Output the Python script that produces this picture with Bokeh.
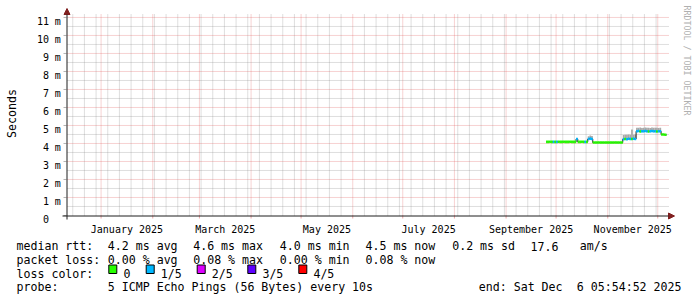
from math import pi
import pandas as pd
from bokeh.plotting import figure
from bokeh.models import Range1d, Arrow, NormalHead, ColumnDataSource
from bokeh.core.properties import value
from bokeh.embed import file_html
from bokeh.resources import INLINE

# ---------------- data ----------------
first_day = "2025-09-25"   # one value per day from here on
median_ms = [
    4.09, 4.09, 4.10, 4.09, 4.09, 4.09,                                       # Sep 25-30
    4.09, 4.10, 4.09, 4.09, 4.10, 4.09, 4.09, 4.09, 4.10, 4.09, 4.09, 4.09,   # Oct 1-12
    4.25,                                                                     # Oct 13
    4.09, 4.09, 4.10, 4.09, 4.09, 4.09,                                       # Oct 14-19
    4.25, 4.27, 4.25,                                                         # Oct 20-22
    4.05, 4.05, 4.05, 4.06, 4.05, 4.05, 4.05, 4.05, 4.05,                     # Oct 23-31
    4.05, 4.05, 4.05, 4.05, 4.06, 4.05, 4.05, 4.05, 4.05,                     # Nov 1-9
    4.24, 4.25, 4.24, 4.26, 4.25, 4.25, 4.26, 4.25,                           # Nov 10-17
    4.68, 4.69, 4.67, 4.68, 4.68, 4.69, 4.68, 4.67, 4.68, 4.69, 4.68, 4.68,
    4.67, 4.68, 4.68,                                                         # Nov 18-Dec 2
    4.50, 4.50, 4.48,                                                         # Dec 3-5
]
smoke_hi_ms = [
    4.13, 4.13, 4.14, 4.13, 4.14, 4.13,
    4.14, 4.14, 4.13, 4.13, 4.14, 4.13, 4.13, 4.13, 4.14, 4.13, 4.13, 4.13,
    4.30,
    4.13, 4.13, 4.14, 4.13, 4.13, 4.14,
    4.40, 4.44, 4.42,
    4.09, 4.09, 4.09, 4.10, 4.09, 4.09, 4.09, 4.09, 4.09,
    4.09, 4.09, 4.09, 4.09, 4.10, 4.09, 4.09, 4.09, 4.09,
    4.47, 4.49, 4.48, 4.50, 4.49, 4.78, 4.48, 4.50,
    4.88, 4.87, 4.89, 4.86, 4.88, 4.89, 4.87, 4.88, 4.86, 4.89, 4.88, 4.87,
    4.88, 4.86, 4.87,
    4.55, 4.54, 4.53,
]
smoke_lo_ms = [
    4.05, 4.05, 4.06, 4.05, 4.05, 4.05,
    4.05, 4.06, 4.05, 4.05, 4.06, 4.05, 4.05, 4.05, 4.06, 4.05, 4.05, 4.05,
    4.20,
    4.05, 4.05, 4.06, 4.05, 4.05, 4.05,
    4.20, 4.22, 4.20,
    4.01, 4.01, 4.01, 4.02, 4.01, 4.01, 4.01, 4.01, 4.01,
    4.01, 4.01, 4.01, 4.01, 4.02, 4.01, 4.01, 4.01, 4.01,
    4.19, 4.20, 4.19, 4.21, 4.20, 4.20, 4.21, 4.20,
    4.63, 4.64, 4.62, 4.63, 4.63, 4.64, 4.63, 4.62, 4.63, 4.64, 4.63, 4.63,
    4.62, 4.63, 4.63,
    4.46, 4.46, 4.44,
]
lost_of_5 = [
    0, 0, 0, 0, 1, 0,
    1, 0, 0, 0, 0, 0, 0, 0, 0, 0, 0, 0,
    1,
    0, 0, 0, 0, 1, 0,
    1, 1, 1,
    0, 0, 0, 0, 0, 0, 0, 0, 0,
    0, 0, 0, 0, 0, 0, 0, 0, 0,
    1, 0, 1, 1, 1, 0, 1, 1,
    1, 1, 0, 1, 1, 1, 1, 0, 1, 1, 1, 1,
    0, 1, 1,
    0, 0, 0,
]

loss_labels = ["0", "1/5", "2/5", "3/5", "4/5"]
loss_colors = ["#26ff00", "#00b8ff", "#dd00ff", "#5e00ff", "#ff0000"]

y_ticks = [0, 1, 2, 3, 4, 5, 6, 7, 8, 9, 10, 11]
y_tick_labels = ["0", "1 m", "2 m", "3 m", "4 m", "5 m", "6 m", "7 m", "8 m",
                 "9 m", "10 m", "11 m"]
x_label_months = ["2025-01-01", "2025-03-01", "2025-05-01", "2025-07-01",
                  "2025-09-01", "2025-11-01"]
x_tick_labels = ["January 2025", "March 2025", "May 2025", "July 2025",
                 "September 2025", "November 2025"]

graph_end = "2025-12-06 05:54:52"
graph_days = 360
y_top = 11.11

rtt_title = "median rtt:"
rtt_stats = ["4.2 ms avg", "4.6 ms max", "4.0 ms min", "4.5 ms now", "0.2 ms sd", "17.6", "am/s"]
loss_title = "packet loss:"
loss_stats = ["0.00 % avg", "0.08 % max", "0.00 % min", "0.08 % now"]
color_title = "loss color:"
probe_title = "probe:"
probe_text = "5 ICMP Echo Pings (56 Bytes) every 10s"
end_parts = ["end: Sat Dec", "6 05:54:52 2025"]
watermark = "RRDTOOL / TOBI OETIKER"
y_title = "Seconds"

# ---------------- layout ----------------
W, H = 697, 297
GL, GR, GT, GB = 66, 666, 15, 215     # graph area in canvas pixels
MONO = "DejaVu Sans Mono"
DAY = 86400000
GRID = "#808080"
MGRID = "#e04f4f"
AXIS = "#1f1f1f"
ARROW = "#801f1f"


def to_ms(t):
    return int(pd.Timestamp(t).value // 10**6)


x1 = to_ms(graph_end)
x0 = x1 - graph_days * DAY


def X(px):
    return x0 + (px - GL) * (x1 - x0) / (GR - GL)


def Y(py):
    return (GB - py) * y_top / (GB - GT)


# the frame is the whole canvas; time and millisecond scales are set so the graph area
# falls where the reference has it
p = figure(width=W, height=H, x_range=Range1d(X(0), X(W)), y_range=Range1d(Y(H), Y(0)),
           x_axis_type=None, y_axis_type=None, min_border=0,
           output_backend="svg", toolbar_location=None)
p.outline_line_color = None
p.background_fill_color = "white"
p.border_fill_color = "white"

# ---- grid ----
month_starts = [to_ms(d) for d in pd.date_range("2024-12-01", "2026-01-01", freq="MS")
                if x0 < to_ms(d) < x1]
sundays = [to_ms(d) for d in pd.date_range("2024-12-01", "2025-12-31", freq="W-SUN")
           if x0 < to_ms(d) < x1 and to_ms(d) not in month_starts]
y_minor = [t + 0.5 for t in y_ticks[:-1]]

p.segment(x0=sundays, x1=sundays, y0=[0] * len(sundays), y1=[Y(14)] * len(sundays),
          line_color=GRID, line_alpha=0.5, line_dash="1 1", line_width=1)
p.segment(x0=[X(67)] * len(y_minor), x1=[X(668)] * len(y_minor), y0=y_minor, y1=y_minor,
          line_color=GRID, line_alpha=0.5, line_dash="1 1", line_width=1)
p.segment(x0=month_starts, x1=month_starts, y0=[0] * len(month_starts),
          y1=[Y(14)] * len(month_starts),
          line_color=MGRID, line_alpha=0.5, line_dash="1 1", line_width=1)
p.segment(x0=[X(67)] * (len(y_ticks) - 1), x1=[X(668)] * (len(y_ticks) - 1),
          y0=y_ticks[1:], y1=y_ticks[1:],
          line_color=MGRID, line_alpha=0.5, line_dash="1 1", line_width=1)

# small ticks on the axes
p.segment(x0=month_starts, x1=month_starts, y0=[Y(215)] * len(month_starts),
          y1=[Y(218)] * len(month_starts), line_color=MGRID, line_alpha=0.5)
p.segment(x0=[X(63)] * len(y_ticks), x1=[X(66)] * len(y_ticks), y0=y_ticks, y1=y_ticks,
          line_color=GRID, line_alpha=0.6)

# ---- data ----
days = pd.date_range(first_day, periods=len(median_ms), freq="D")
left = [to_ms(d) for d in days]
right = [l + DAY + 3600000 for l in left]
right[-1] = x1
band = 0.07
src = ColumnDataSource(dict(
    left=left, right=right, lo=smoke_lo_ms, hi=smoke_hi_ms,
    blo=[m - band for m in median_ms], bhi=[m + band for m in median_ms],
    color=[loss_colors[n] for n in lost_of_5]))
p.quad(left="left", right="right", bottom="lo", top="hi", source=src,
       fill_color="#a8a8a8", line_color=None)
p.step(x=left + [x1], y=median_ms + [median_ms[-1]], mode="after",
       line_color="#202020", line_width=1)
p.quad(left="left", right="right", bottom="blo", top="bhi", source=src,
       fill_color="color", line_color=None)

# ---- axes with arrows ----
p.add_layout(Arrow(end=NormalHead(size=6, fill_color=ARROW, line_color=ARROW, line_width=1),
                   x_start=X(62), y_start=Y(215.5), x_end=X(674), y_end=Y(215.5),
                   line_color=AXIS, line_width=1))
p.add_layout(Arrow(end=NormalHead(size=6, fill_color=ARROW, line_color=ARROW, line_width=1),
                   x_start=X(66.5), y_start=Y(219), x_end=X(66.5), y_end=Y(8),
                   line_color=AXIS, line_width=1))

# ---- tick labels ----
mid_months = []
for m in x_label_months:
    a = pd.Timestamp(m)
    b = a + pd.offsets.MonthBegin(1)
    mid_months.append((to_ms(a) + to_ms(b)) / 2)
p.text(x=mid_months, y=[Y(228.8)] * len(mid_months), text=x_tick_labels,
       text_font=value(MONO), text_font_size="10px", text_color="#000000",
       text_align="center", text_baseline="alphabetic")

num_part = [s.split(" ")[0] for s in y_tick_labels]
unit_part = [s.split(" ")[1] if " " in s else "" for s in y_tick_labels]
px_per_ms = (GB - GT) / y_top
label_y = [t - 3.6 / px_per_ms for t in y_ticks]
p.text(x=[X(48.5)] * len(y_ticks), y=label_y, text=num_part,
       text_font=value(MONO), text_font_size="10px", text_color="#000000",
       text_align="right", text_baseline="alphabetic")
p.text(x=[X(54.3)] * len(y_ticks), y=label_y, text=unit_part,
       text_font=value(MONO), text_font_size="10px", text_color="#000000",
       text_align="left", text_baseline="alphabetic")

# ---- titles ----
p.text(x=[X(11)], y=[Y(113)], text=[y_title], angle=pi / 2,
       text_font=value(MONO), text_font_size="11.6px", text_color="#000000",
       text_align="center", text_baseline="middle")
p.text(x=[X(686.5)], y=[Y(5)], text=[watermark], angle=-pi / 2,
       text_font=value(MONO), text_font_size="8.3px", text_color="#b0b0b0",
       text_align="left", text_baseline="middle")

# ---- legend block ----
col_x = [107.3, 192.7, 279.3, 365.0, 451.7, 530.0, 579.3]
base = [245.7, 259.3, 273.0, 286.7]
lx, ly, lt = [], [], []


def put(px, py, s):
    lx.append(X(px)); ly.append(Y(py)); lt.append(s)


put(16, base[0], rtt_title)
for cx, s in zip(col_x, rtt_stats):
    put(cx, base[0], s)
put(16, base[1], loss_title)
for cx, s in zip(col_x, loss_stats):
    put(cx, base[1], s)
put(16, base[2], color_title)
sq_x = [108.3, 145.7, 196.7, 247.3, 298.3]
for sx, lab in zip(sq_x, loss_labels):
    put(sx + 14.6, base[2], lab)
put(16, base[3], probe_title)
put(107.3, base[3], probe_text)
put(478.3, base[3], end_parts[0])
put(576.3, base[3], end_parts[1])

p.text(x=lx, y=ly, text=lt, text_font=value(MONO), text_font_size="11.6px",
       text_color="#000000", text_align="left", text_baseline="alphabetic")
p.quad(left=[X(sx) for sx in sq_x], right=[X(sx + 8) for sx in sq_x],
       top=[Y(264.5)] * len(sq_x), bottom=[Y(273.0)] * len(sq_x),
       fill_color=loss_colors, line_color="#000000", line_width=1)

open("out.html", "w").write(file_html(p, INLINE))
